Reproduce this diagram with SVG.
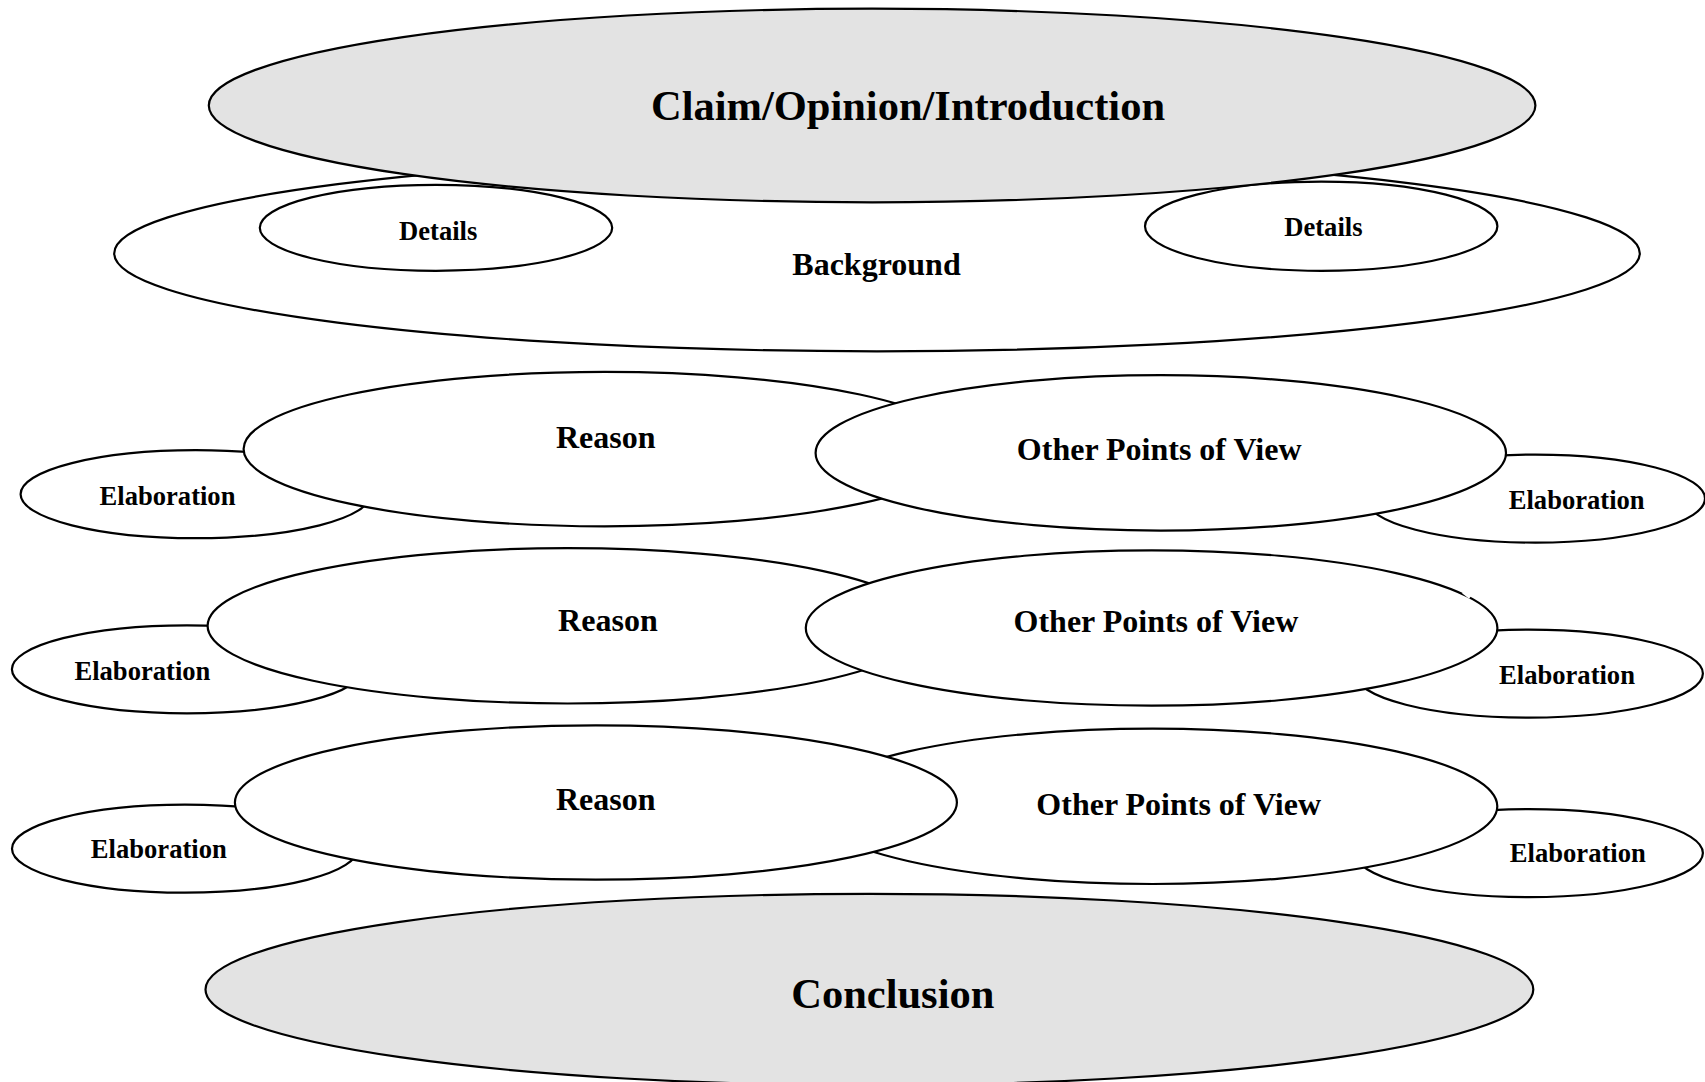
<svg xmlns="http://www.w3.org/2000/svg" width="1705" height="1082" viewBox="0 0 1705 1082">
<style>
.n{fill:#ffffff;stroke:#000000;stroke-width:2.2}
.g{fill:#e3e3e3;stroke:#000000;stroke-width:2.2}
text{font-family:"Liberation Serif","Times New Roman",serif;font-weight:bold;text-anchor:middle;fill:#000000}
.big{font-size:42.5px}
.mid{font-size:32px}
.sm{font-size:26.6px}
</style>
<rect width="1705" height="1082" fill="#ffffff"/>
<g id="background"><ellipse class="n" cx="877" cy="253.4" rx="762.8" ry="97.9"/><text class="mid" x="876.5" y="274.7">Background</text></g>
<g id="details-left"><ellipse class="n" cx="436" cy="227.8" rx="176.2" ry="43"/><text class="sm" x="438.2" y="240.3">Details</text></g>
<g id="details-right"><ellipse class="n" cx="1321.2" cy="226.2" rx="176.2" ry="44.6"/><text class="sm" x="1323.4" y="236">Details</text></g>
<g id="claim"><ellipse class="g" cx="872.1" cy="105.5" rx="663.3" ry="96.8"/><text class="big" x="908" y="119.6">Claim/Opinion/Introduction</text></g>

<g id="elab-l1"><ellipse class="n" cx="195.7" cy="494.2" rx="175.1" ry="44"/><text class="sm" x="167.5" y="504.6">Elaboration</text></g>
<g id="elab-r1"><ellipse class="n" cx="1535.4" cy="498.6" rx="169.6" ry="44"/><text class="sm" x="1576.7" y="508.9">Elaboration</text></g>
<g id="reason1"><ellipse class="n" cx="604.6" cy="449.1" rx="361" ry="77.2"/><text class="mid" x="605.7" y="447.6">Reason</text></g>
<g id="opv1"><ellipse class="n" cx="1160.8" cy="452.9" rx="345.2" ry="77.7"/><text class="mid" x="1159.2" y="459.5">Other Points of View</text></g>

<g id="elab-l2"><ellipse class="n" cx="187" cy="669.3" rx="175.1" ry="44"/><text class="sm" x="142.4" y="679.6">Elaboration</text></g>
<g id="elab-r2"><ellipse class="n" cx="1528.9" cy="673.6" rx="174" ry="44"/><text class="sm" x="1567" y="684">Elaboration</text></g>
<g id="reason2"><ellipse class="n" cx="567.6" cy="625.8" rx="360" ry="77.7"/><text class="mid" x="607.9" y="631.3">Reason</text></g>
<g id="opv2"><ellipse class="n" cx="1151.6" cy="628" rx="345.8" ry="77.7"/><text class="mid" x="1155.9" y="632.4">Other Points of View</text><line x1="1463" y1="592" x2="1470" y2="597.5" stroke="#ffffff" stroke-width="3"/></g>

<g id="elab-l3"><ellipse class="n" cx="184.9" cy="848.7" rx="172.9" ry="44"/><text class="sm" x="158.8" y="858">Elaboration</text></g>
<g id="elab-r3"><ellipse class="n" cx="1528.9" cy="853.1" rx="174" ry="44"/><text class="sm" x="1577.8" y="862.3">Elaboration</text></g>
<g id="opv3"><ellipse class="n" cx="1152.6" cy="806.3" rx="344.7" ry="77.7"/><text class="mid" x="1178.7" y="815.1">Other Points of View</text></g>
<g id="reason3"><ellipse class="n" cx="595.9" cy="802.5" rx="361" ry="77.2"/><text class="mid" x="605.7" y="809.7">Reason</text></g>

<g id="conclusion"><ellipse class="g" cx="869.4" cy="989.5" rx="663.9" ry="95.7"/><text class="big" x="892.8" y="1008">Conclusion</text></g>
<g id="connectors"></g>
</svg>
